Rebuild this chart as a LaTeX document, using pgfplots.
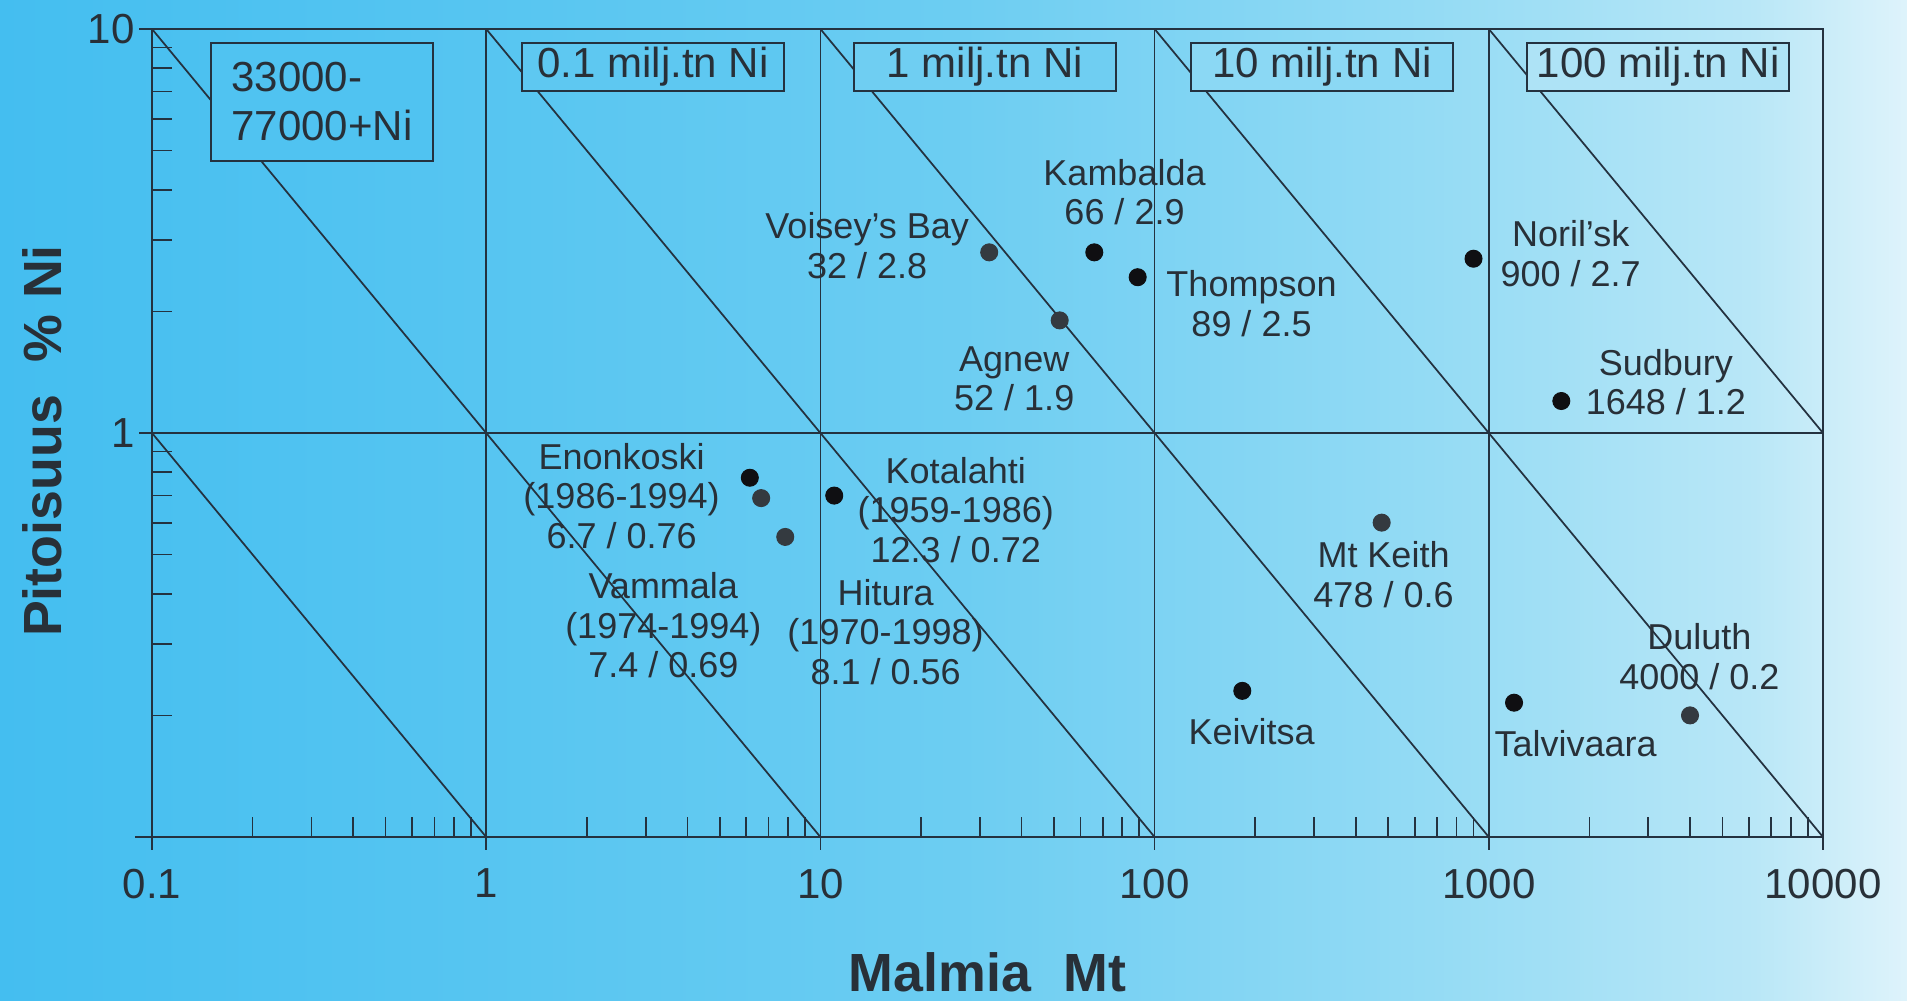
\documentclass[border=0pt]{standalone}
\usepackage{fontspec}
\setmainfont{Liberation Sans}
\usepackage{pgfplots}
\pgfplotsset{compat=1.18}
\definecolor{bgA}{RGB}{68,190,240}
\definecolor{bgB}{RGB}{86,197,241}
\definecolor{bgC}{RGB}{108,205,242}
\definecolor{bgD}{RGB}{148,219,244}
\definecolor{bgE}{RGB}{185,231,247}
\definecolor{bgF}{RGB}{222,243,251}
\pgfdeclarehorizontalshading{bgshade}{100bp}{color(0bp)=(bgA); color(25bp)=(bgA); color(37.5bp)=(bgB); color(50bp)=(bgC); color(62.5bp)=(bgD); color(71bp)=(bgE); color(75bp)=(bgF); color(100bp)=(bgF)}
\definecolor{boxA}{RGB}{80,195,241}
\definecolor{boxB}{RGB}{94,200,241}
\definecolor{boxC}{RGB}{111,206,242}
\definecolor{boxD}{RGB}{139,216,244}
\definecolor{boxE}{RGB}{174,227,246}
\definecolor{ink}{RGB}{36,50,64}
\definecolor{txt}{RGB}{40,48,56}
\definecolor{dotA}{RGB}{15,15,18}
\definecolor{dotB}{RGB}{52,58,64}
\begin{document}
\begin{tikzpicture}[x=1pt,y=1pt]
\path[use as bounding box] (0,0) rectangle (762.8,400.4);
\shade[shading=bgshade] (0,0) rectangle (762.8,400.4);
% x axis line extends slightly left of the y axis
\draw[ink, line width=0.7pt] (54.0,65.6) -- (60.8,65.6);
\begin{axis}[
  at={(60.8pt,65.6pt)}, anchor=south west,
  width=668.4pt, height=323.2pt, scale only axis,
  xmode=log, ymode=log,
  xmin=0.1, xmax=10000, ymin=0.1, ymax=10,
  axis line style={ink, line width=0.7pt},
  grid=major,
  major grid style={ink, line width=0.7pt},
  xtick={0.1,1,10,100,1000,10000},
  xticklabels={0.1,1,10,100,1000,10000},
  ytick={1,10}, yticklabels={1,10},
  minor xtick={0.2,0.3,0.4,0.5,0.6,0.7,0.8,0.9,2,3,4,5,6,7,8,9,20,30,40,50,60,70,80,90,200,300,400,500,600,700,800,900,2000,3000,4000,5000,6000,7000,8000,9000},
  minor ytick={0.2,0.3,0.4,0.5,0.6,0.7,0.8,0.9,2,3,4,5,6,7,8,9},
  tick pos=left, tick align=outside,
  major tick length=5.2pt, minor tick length=-8pt,
  every tick/.style={ink, line width=0.7pt},
  ticklabel style={font=\fontsize{16.8}{20}\selectfont, text=txt},
  xticklabel style={yshift=-4pt},
  yticklabel style={xshift=1.7pt},
  xlabel={Malmia\hspace{0.6em}Mt},
  ylabel={Pitoisuus\hspace{0.6em}\%\hspace{0.3em}Ni},
  every axis x label/.style={at={(axis description cs:0.5,-0.168)}, anchor=center, font=\fontsize{21.5}{25}\selectfont\bfseries, text=txt},
  every axis y label/.style={at={(axis description cs:-0.0658,0.49)}, rotate=90, anchor=center, font=\fontsize{21.5}{25}\selectfont\bfseries, text=txt},
  clip=false,
]
% lines of constant Ni tonnage (grade x tonnage)
\addplot[ink, line width=0.7pt] coordinates {(0.1,1) (1,0.1)};
\addplot[ink, line width=0.7pt] coordinates {(0.1,10) (10,0.1)};
\addplot[ink, line width=0.7pt] coordinates {(1,10) (100,0.1)};
\addplot[ink, line width=0.7pt] coordinates {(10,10) (1000,0.1)};
\addplot[ink, line width=0.7pt] coordinates {(100,10) (10000,0.1)};
\addplot[ink, line width=0.7pt] coordinates {(1000,10) (10000,1)};
% deposits
\addplot[only marks, mark=*, mark size=3.4pt, mark options={fill=dotA, draw=dotA}] coordinates {
  (66,2.8) (89,2.43) (900,2.7) (1648,1.2) (6.15,0.775) (11,0.70) (183,0.23) (1190,0.215)};
\addplot[only marks, mark=*, mark size=3.4pt, mark options={fill=dotB, draw=dotB}] coordinates {
  (32,2.8) (52,1.9) (6.65,0.69) (7.85,0.553) (478,0.6) (4000,0.2)};
% boxes
\node[draw=ink, line width=0.7pt, fill=boxA, align=left, text=txt, font=\fontsize{16.8}{19.6}\selectfont, minimum width=88.8pt, minimum height=47.2pt, inner xsep=8pt] at (rel axis cs:0.1017,0.9097) {33000-\\77000+Ni};
\tikzset{bx/.style={draw=ink, line width=0.7pt, text=txt, font=\fontsize{16.8}{19.6}\selectfont, minimum width=104.8pt, minimum height=19.2pt, inner sep=0pt}}
\node[bx, fill=boxB] at (rel axis cs:0.2998,0.953) {0.1 milj.tn Ni};
\node[bx, fill=boxC] at (rel axis cs:0.4985,0.953) {1 milj.tn Ni};
\node[bx, fill=boxD] at (rel axis cs:0.7002,0.953) {10 milj.tn Ni};
\node[bx, fill=boxE] at (rel axis cs:0.9013,0.953) {100 milj.tn Ni};
% labels
\tikzset{lb/.style={align=center, text=txt, font=\fontsize{14.4}{15.8}\selectfont, inner sep=0pt}}
\node[lb] at (rel axis cs:0.428,0.732) {Voisey’s Bay\\32 / 2.8};
\node[lb] at (rel axis cs:0.582,0.798) {Kambalda\\66 / 2.9};
\node[lb] at (rel axis cs:0.658,0.660) {Thompson\\89 / 2.5};
\node[lb] at (rel axis cs:0.516,0.567) {Agnew\\52 / 1.9};
\node[lb] at (rel axis cs:0.849,0.722) {Noril’sk\\900 / 2.7};
\node[lb] at (rel axis cs:0.906,0.563) {Sudbury\\1648 / 1.2};
\node[lb] at (rel axis cs:0.281,0.422) {Enonkoski\\(1986-1994)\\6.7 / 0.76};
\node[lb] at (rel axis cs:0.481,0.405) {Kotalahti\\(1959-1986)\\12.3 / 0.72};
\node[lb] at (rel axis cs:0.306,0.262) {Vammala\\(1974-1994)\\7.4 / 0.69};
\node[lb] at (rel axis cs:0.439,0.254) {Hitura\\(1970-1998)\\8.1 / 0.56};
\node[lb] at (rel axis cs:0.737,0.325) {Mt Keith\\478 / 0.6};
\node[lb] at (rel axis cs:0.658,0.131) {Keivitsa};
\node[lb] at (rel axis cs:0.852,0.116) {Talvivaara};
\node[lb] at (rel axis cs:0.926,0.223) {Duluth\\4000 / 0.2};
\end{axis}
\end{tikzpicture}
\end{document}
